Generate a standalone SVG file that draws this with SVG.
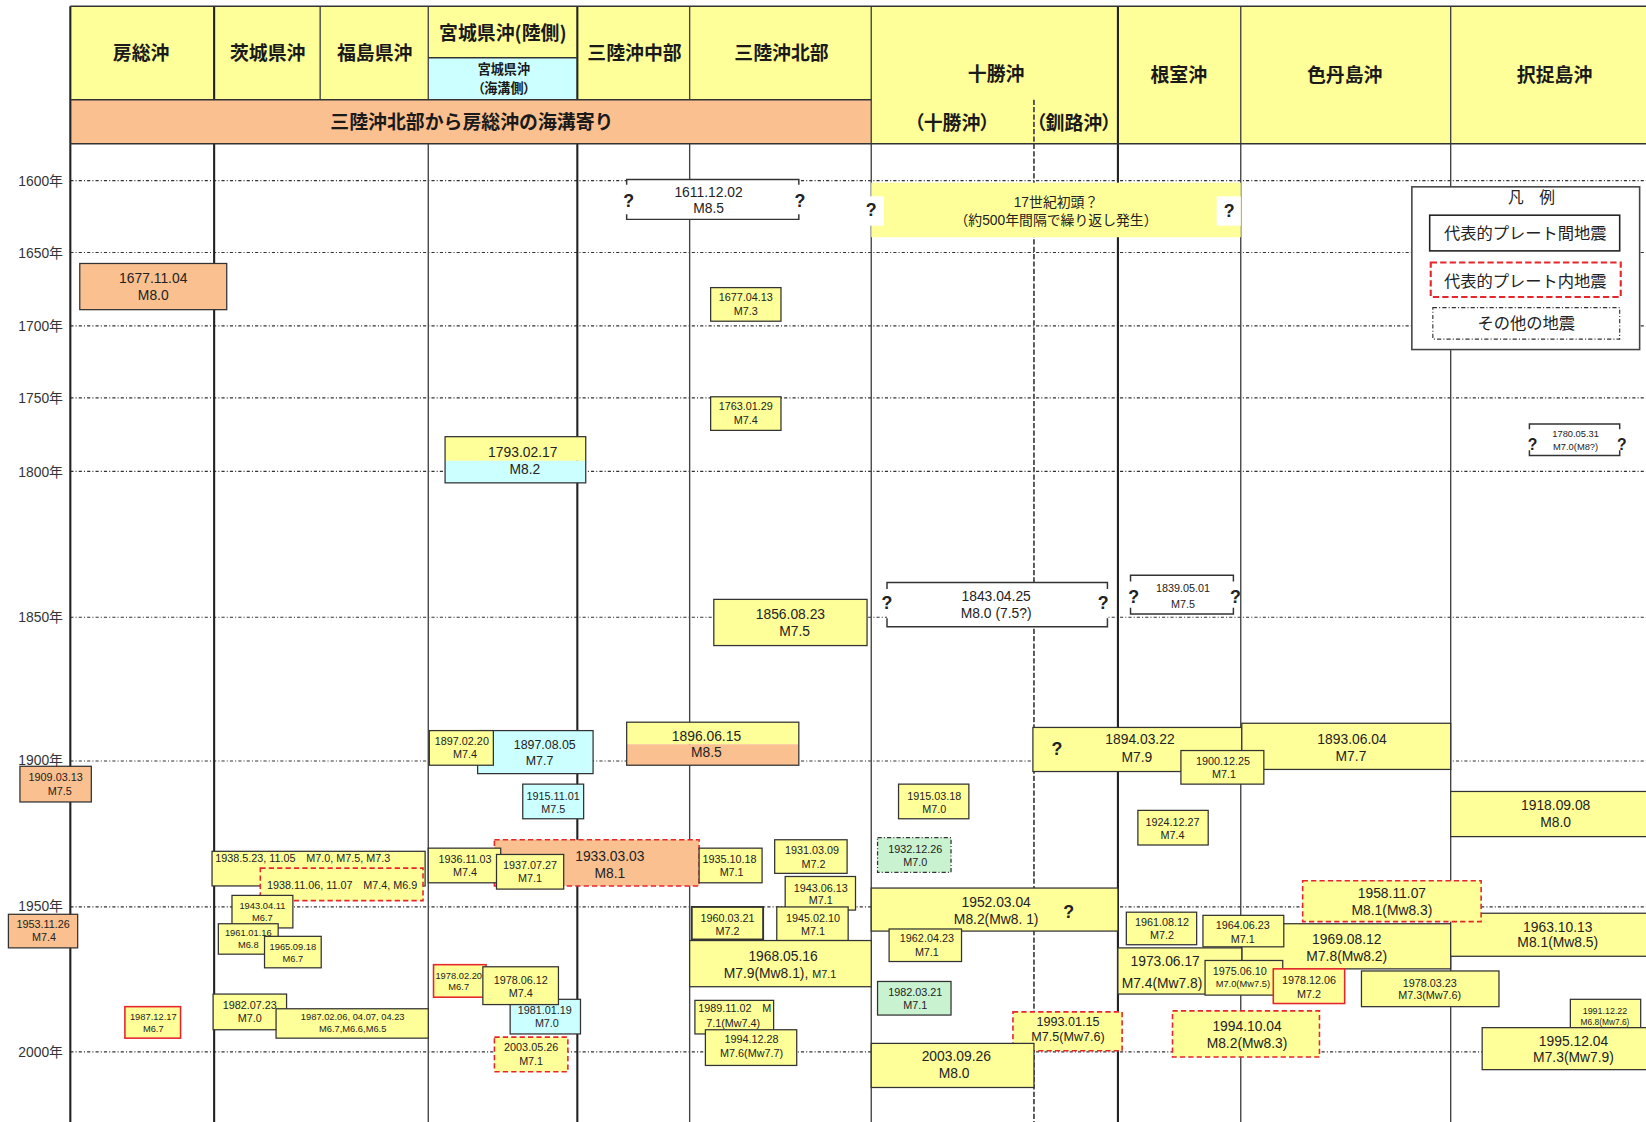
<svg xmlns="http://www.w3.org/2000/svg" width="1646" height="1122" viewBox="0 0 1646 1122">
<style>
.hd{font-family:"Noto Sans CJK JP","Noto Sans",sans-serif;font-weight:700;fill:#1a1a1a;text-anchor:middle;font-size:18px}
.palt{font-feature-settings:"palt"}
.lg{font-family:"Noto Sans CJK JP","Noto Sans",sans-serif;fill:#222;text-anchor:middle;font-size:15.5px}
.t{font-family:"Liberation Sans","Noto Sans CJK JP",sans-serif;fill:#222;text-anchor:middle}
.yr{font-family:"Liberation Sans","Noto Sans CJK JP",sans-serif;fill:#333;text-anchor:end;font-size:13.2px}
.q{font-family:"Liberation Sans",sans-serif;font-weight:700;font-size:17px;fill:#222;text-anchor:middle}
.s13{font-size:13.2px}.s12{font-size:12px}.s10{font-size:10.3px}.s9{font-size:8.9px}.s8{font-size:8px}
.b{stroke:#333;stroke-width:1.2}
.fy{fill:#FFFF99}.fo{fill:#FAC090}.fc{fill:#CCFFFF}.fg{fill:#C8F2D0}.fw{fill:#fff}
.rd{stroke:#E5262B;stroke-width:1.5;stroke-dasharray:5 3}
.rs{stroke:#E5262B;stroke-width:1.5}
.dd{stroke-dasharray:4 2 1 2}
.br{fill:none;stroke:#333;stroke-width:1.4}
.gl{stroke:#333;stroke-width:1.1;stroke-dasharray:3 2 1 2;fill:none}
.vk{stroke:#222;stroke-width:2}
.vt{stroke:#444;stroke-width:1.3}
</style>
<rect width="1646" height="1122" fill="#fff"/>
<g transform="scale(1.0497)">
<g id="header">
 <rect x="67" y="6" width="1505" height="131" fill="#FFFF99"/>
 <rect x="67" y="95" width="763" height="42" fill="#FAC090"/>
 <rect x="408" y="55" width="142" height="40" fill="#CCFFFF"/>
 <text class="hd" x="134.5" y="57.5">房総沖</text>
 <text class="hd" x="255" y="57.5">茨城県沖</text>
 <text class="hd" x="357" y="57.5">福島県沖</text>
 <text class="hd" x="479" y="38.5">宮城県沖(陸側)</text>
 <text class="hd palt" x="480" y="70.5" style="font-size:12.5px">宮城県沖</text>
 <text class="hd palt" x="480" y="88.5" style="font-size:12.5px">（海溝側）</text>
 <text class="hd" x="604.5" y="57.5">三陸沖中部</text>
 <text class="hd" x="744.5" y="57.5">三陸沖北部</text>
 <text class="hd" x="449.5" y="123">三陸沖北部から房総沖の海溝寄り</text>
 <text class="hd" x="949" y="77.5">十勝沖</text>
 <text class="hd palt" x="907" y="124">（十勝沖）</text>
 <text class="hd palt" x="1023" y="124">（釧路沖）</text>
 <text class="hd" x="1123" y="78">根室沖</text>
 <text class="hd" x="1281" y="78">色丹島沖</text>
 <text class="hd" x="1481" y="78">択捉島沖</text>
</g>
<g id="grid">
 <path class="gl" d="M67 172H1572M67 240.5H1572M67 310.5H1572M67 379H1572M67 449H1572M67 588H1572M67 725H1572M67 864H1572M67 1002H1572"/>
 <text class="yr" x="60" y="177">1600年</text>
 <text class="yr" x="60" y="245.5">1650年</text>
 <text class="yr" x="60" y="315.5">1700年</text>
 <text class="yr" x="60" y="384">1750年</text>
 <text class="yr" x="60" y="454">1800年</text>
 <text class="yr" x="60" y="593">1850年</text>
 <text class="yr" x="60" y="729">1900年</text>
 <text class="yr" x="60" y="868">1950年</text>
 <text class="yr" x="60" y="1007">2000年</text>
</g>
<g id="columns">
 <path class="vk" d="M67 6V1072M204 6V95M204 137V1072M550 6V95M550 137V1072M1065 6V1072"/>
 <path class="vt" d="M305 6V95M408 6V95M408 137V1072M657 6V95M657 137V1072M830 6V1072M1182 6V1072M1382 6V1072"/>
 <path d="M985 95V1072" stroke="#555" stroke-width="1.8" stroke-dasharray="5 2" fill="none"/>
 <path d="M67 6H1572M67 137H1572M67 95H830M408 55H550" stroke="#333" stroke-width="1.5" fill="none"/>
</g>
<g id="e1611"><rect x="597" y="171" width="164" height="38" class="fw"/><path class="br" d="M597 176V171H761V176M597 204V209H761V204"/><text class="q" x="599" y="197">?</text><text class="q" x="762" y="197">?</text><text class="t s13" x="675" y="187.5">1611.12.02</text><text class="t s13" x="675" y="203">M8.5</text></g>
<g id="e17c"><rect x="830" y="174" width="352" height="52" fill="#FFFF99"/><rect x="820" y="187" width="22" height="28" fill="#fff"/><rect x="1159" y="187" width="23" height="28" fill="#fff"/><text class="q" x="830" y="206">?</text><text class="q" x="1171" y="207">?</text><text class="t s13" x="1006" y="197">17世紀初頭？</text><text class="t s13" x="1006" y="214">（約500年間隔で繰り返し発生）</text></g>
<g id="e1677a"><rect x="76" y="251" width="140" height="44" class="b fo"/><text class="t s13" x="146" y="269.5">1677.11.04</text><text class="t s13" x="146" y="285.5">M8.0</text></g>
<g id="e1677b"><rect x="677" y="274" width="67" height="32" class="b fy"/><text class="t s10" x="710.5" y="287">1677.04.13</text><text class="t s10" x="710.5" y="300">M7.3</text></g>
<g id="e1763"><rect x="677" y="378" width="67" height="32" class="b fy"/><text class="t s10" x="710.5" y="390.5">1763.01.29</text><text class="t s10" x="710.5" y="404">M7.4</text></g>
<g id="e1793"><rect x="424" y="416" width="134" height="23" fill="#FFFF99"/><rect x="424" y="439" width="134" height="21" fill="#CCFFFF"/><rect x="424" y="416" width="134" height="44" class="b" fill="none"/><text class="t s13" x="498" y="435">1793.02.17</text><text class="t s13" x="500" y="452">M8.2</text></g>
<g id="e1780"><rect x="1457" y="404" width="86" height="30" class="fw"/><path class="br" d="M1457 409V404H1543V409M1457 429V434H1543V429"/><text class="q" x="1460" y="429" style="font-size:15px">?</text><text class="q" x="1545" y="429" style="font-size:15px">?</text><text class="t s9" x="1501" y="416">1780.05.31</text><text class="t s9" x="1501" y="429">M7.0(M8?)</text></g>
<g id="e1843"><rect x="845" y="555" width="210" height="42" class="fw"/><path class="br" d="M845 561V555H1055V561M845 589V597H1055V589"/><text class="q" x="845" y="580">?</text><text class="q" x="1051" y="580">?</text><text class="t s13" x="949" y="573">1843.04.25</text><text class="t s13" x="949" y="589">M8.0 (7.5?)</text></g>
<g id="e1839"><rect x="1077" y="548" width="98" height="37" class="fw"/><path class="br" d="M1077 554V548H1175V554M1077 579V585H1175V579"/><text class="q" x="1080" y="574">?</text><text class="q" x="1177" y="574">?</text><text class="t s10" x="1127" y="564" fill="#444">1839.05.01</text><text class="t s10" x="1127" y="579" fill="#444">M7.5</text></g>
<g id="e1856"><rect x="680" y="571" width="146" height="44" class="b fy"/><text class="t s13" x="753" y="589.5">1856.08.23</text><text class="t s13" x="757" y="606">M7.5</text></g>
<g id="e1896"><rect x="597" y="688" width="164" height="21" fill="#FFFF99"/><rect x="597" y="709" width="164" height="20" fill="#FAC090"/><rect x="597" y="688" width="164" height="41" class="b" fill="none"/><text class="t s13" x="673" y="706">1896.06.15</text><text class="t s13" x="673" y="721.5">M8.5</text></g>
<g id="e1897b"><rect x="455" y="696" width="110" height="41" class="b fc"/><text class="t" x="519" y="714" style="font-size:11.8px">1897.08.05</text><text class="t" x="514" y="728.5" style="font-size:11.8px">M7.7</text></g>
<g id="e1897a"><rect x="409" y="696" width="61" height="33" class="b fy"/><text class="t s10" x="440" y="709.5">1897.02.20</text><text class="t s10" x="443" y="722">M7.4</text></g>
<g id="e1909"><rect x="19" y="730" width="68" height="34" class="b fo"/><text class="t s10" x="53" y="744">1909.03.13</text><text class="t s10" x="57" y="757">M7.5</text></g>
<g id="e1915b"><rect x="498" y="747" width="58" height="33" class="b fc"/><text class="t s10" x="527" y="762">1915.11.01</text><text class="t s10" x="527" y="774.5">M7.5</text></g>
<g id="e1915a"><rect x="856" y="747" width="67" height="33" class="b fy"/><text class="t s10" x="890" y="762">1915.03.18</text><text class="t s10" x="890" y="774.5">M7.0</text></g>
<g id="e1894"><rect x="984" y="693" width="199" height="42" class="b fy"/><text class="q" x="1007" y="719">?</text><text class="t s13" x="1086" y="709">1894.03.22</text><text class="t s13" x="1083" y="726">M7.9</text></g>
<g id="e1893"><rect x="1183" y="689" width="199" height="44" class="b fy"/><text class="t s13" x="1288" y="709">1893.06.04</text><text class="t s13" x="1287" y="724.5">M7.7</text></g>
<g id="e1900"><rect x="1125" y="715" width="79" height="32" class="b fy"/><text class="t s10" x="1165" y="728.5">1900.12.25</text><text class="t s10" x="1166" y="741">M7.1</text></g>
<g id="e1918"><rect x="1382" y="754" width="190" height="43" class="b fy"/><text class="t s13" x="1482" y="772">1918.09.08</text><text class="t s13" x="1482" y="788">M8.0</text></g>
<g id="e1924"><rect x="1084" y="772" width="67" height="33" class="b fy"/><text class="t s10" x="1117" y="787">1924.12.27</text><text class="t s10" x="1117" y="799.5">M7.4</text></g>
<g id="e1938a"><rect x="202" y="811" width="203" height="33" class="b fy"/><text class="t s10" x="205" y="821.5" style="text-anchor:start">1938.5.23, 11.05　M7.0, M7.5, M7.3</text></g>
<g id="e1938b"><rect x="248" y="827" width="155" height="31" class="rd fy"/><text class="t s10" x="326" y="847">1938.11.06, 11.07　M7.4, M6.9</text></g>
<g id="e1933"><rect x="471" y="800" width="195" height="44" class="rd fo"/><text class="t s13" x="581" y="820">1933.03.03</text><text class="t s13" x="581" y="836">M8.1</text></g>
<g id="e1936"><rect x="408" y="808" width="69" height="33" class="b fy"/><text class="t s10" x="443" y="822">1936.11.03</text><text class="t s10" x="443" y="834.5">M7.4</text></g>
<g id="e1937"><rect x="473" y="814" width="64" height="33" class="b fy"/><text class="t s10" x="505" y="827.5">1937.07.27</text><text class="t s10" x="505" y="840.5">M7.1</text></g>
<g id="e1935"><rect x="666" y="808" width="60" height="33" class="b fy"/><text class="t s10" x="695" y="822">1935.10.18</text><text class="t s10" x="697" y="834.5">M7.1</text></g>
<g id="e1931"><rect x="738" y="800" width="69" height="32" class="b fy"/><text class="t s10" x="773.5" y="814">1931.03.09</text><text class="t s10" x="775" y="827">M7.2</text></g>
<g id="e1943b"><rect x="748" y="835" width="67" height="32" class="b fy"/><text class="t s10" x="782" y="850">1943.06.13</text><text class="t s10" x="782" y="861.5">M7.1</text></g>
<g id="e1945"><rect x="740" y="864" width="68" height="32" class="b fy"/><text class="t s10" x="774.5" y="878.5">1945.02.10</text><text class="t s10" x="774.5" y="890.5">M7.1</text></g>
<g id="e1960"><rect x="659" y="864" width="68" height="31" class="b fy" style="stroke-width:1.8"/><text class="t s10" x="693" y="878.5">1960.03.21</text><text class="t s10" x="693" y="890.5">M7.2</text></g>
<g id="e1968"><rect x="657" y="896" width="173" height="44" class="b fy"/><text class="t s13" x="746" y="915.5">1968.05.16</text><text class="t s13" x="743" y="931.5">M7.9(Mw8.1), <tspan class="s10">M7.1</tspan></text></g>
<g id="e1989"><rect x="662" y="953" width="75" height="32" class="b fy"/><text class="t s10" x="700" y="964">1989.11.02　M</text><text class="t s10" x="698.5" y="978">7.1(Mw7.4)</text></g>
<g id="e1994b"><rect x="672" y="981" width="87" height="34" class="b fy"/><text class="t s10" x="716" y="993.5">1994.12.28</text><text class="t s10" x="716" y="1006.5">M7.6(Mw7.7)</text></g>
<g id="e1978a"><rect x="413" y="919" width="50" height="31" class="rs fy"/><text class="t s9" x="437" y="932.5">1978.02.20</text><text class="t s9" x="437" y="943.5">M6.7</text></g>
<g id="e1981"><rect x="486" y="952" width="67" height="33" class="b fc"/><text class="t s10" x="519" y="966">1981.01.19</text><text class="t s10" x="521" y="978.5">M7.0</text></g>
<g id="e1978b"><rect x="460" y="921" width="72" height="36" class="b fy"/><text class="t s10" x="496" y="937.5">1978.06.12</text><text class="t s10" x="496" y="950">M7.4</text></g>
<g id="e2003a"><rect x="471" y="988" width="70" height="33" class="rd fy"/><text class="t s10" x="506" y="1001.5">2003.05.26</text><text class="t s10" x="506" y="1015">M7.1</text></g>
<g id="e1953"><rect x="8" y="871" width="66" height="32" class="b fo"/><text class="t s10" x="41" y="884.5">1953.11.26</text><text class="t s10" x="42" y="896.5">M7.4</text></g>
<g id="e1943a"><rect x="221" y="853" width="58" height="31" class="b fy"/><text class="t s9" x="250" y="866">1943.04.11</text><text class="t s9" x="250" y="877.5">M6.7</text></g>
<g id="e1961a"><rect x="208" y="880" width="57" height="29" class="b fy"/><text class="t s9" x="236.5" y="891.5">1961.01.16</text><text class="t s9" x="236.5" y="903">M6.8</text></g>
<g id="e1965"><rect x="252" y="892" width="54" height="30" class="b fy"/><text class="t s9" x="279" y="905">1965.09.18</text><text class="t s9" x="279" y="916">M6.7</text></g>
<g id="e1982a"><rect x="203" y="947" width="70" height="34" class="b fy"/><text class="t s10" x="238" y="961">1982.07.23</text><text class="t s10" x="238" y="973.5">M7.0</text></g>
<g id="e1987a"><rect x="263" y="961" width="145" height="28" class="b fy"/><text class="t s9" x="336" y="972">1987.02.06, 04.07, 04.23</text><text class="t s9" x="336" y="983.5">M6.7,M6.6,M6.5</text></g>
<g id="e1987b"><rect x="119" y="959" width="53" height="30" class="rs fy"/><text class="t s9" x="146" y="972">1987.12.17</text><text class="t s9" x="146" y="983.5">M6.7</text></g>
<g id="e1932"><rect x="836" y="798" width="70" height="33" class="b fg dd"/><text class="t s10" x="872" y="813">1932.12.26</text><text class="t s10" x="872" y="825">M7.0</text></g>
<g id="e1952"><rect x="830" y="846" width="235" height="41" class="b fy"/><text class="q" x="1018" y="875">?</text><text class="t s13" x="949" y="864">1952.03.04</text><text class="t s13" x="949" y="880.5">M8.2(Mw8. 1)</text></g>
<g id="e1962"><rect x="847" y="885" width="69" height="31" class="b fy"/><text class="t s10" x="883" y="897.5">1962.04.23</text><text class="t s10" x="883" y="911">M7.1</text></g>
<g id="e1982b"><rect x="836" y="935" width="70" height="32" class="b fg"/><text class="t s10" x="872" y="949">1982.03.21</text><text class="t s10" x="872" y="961.5">M7.1</text></g>
<g id="e1993"><rect x="965" y="964" width="104" height="37" class="rd fy"/><text class="t s12" x="1017.5" y="977.5">1993.01.15</text><text class="t s12" x="1017.5" y="991.5">M7.5(Mw7.6)</text></g>
<g id="e2003b"><rect x="830" y="994" width="155" height="42" class="b fy"/><text class="t s13" x="911" y="1011">2003.09.26</text><text class="t s13" x="909" y="1026.5">M8.0</text></g>
<g id="e1961b"><rect x="1073" y="869" width="67" height="31" class="b fy"/><text class="t s10" x="1107" y="882">1961.08.12</text><text class="t s10" x="1107" y="894.5">M7.2</text></g>
<g id="e1969"><rect x="1183" y="880" width="199" height="43" class="b fy"/><text class="t s13" x="1283" y="899">1969.08.12</text><text class="t s13" x="1283" y="915.5">M7.8(Mw8.2)</text></g>
<g id="e1964"><rect x="1146" y="872" width="77" height="30" class="b fy"/><text class="t s10" x="1184" y="885">1964.06.23</text><text class="t s10" x="1184" y="898">M7.1</text></g>
<g id="e1973"><rect x="1065" y="903" width="118" height="44" class="b fy"/><text class="t s13" x="1110" y="920">1973.06.17</text><text class="t s13" x="1107" y="941">M7.4(Mw7.8)</text></g>
<g id="e1975"><rect x="1148" y="915" width="74" height="33" class="b fy"/><text class="t s10" x="1181" y="929">1975.06.10</text><text class="t s9" x="1184" y="940.5">M7.0(Mw7.5)</text></g>
<g id="e1978c"><rect x="1213" y="923" width="68" height="33" class="rs fy"/><text class="t s10" x="1247" y="937.5">1978.12.06</text><text class="t s10" x="1247" y="951">M7.2</text></g>
<g id="e1994a"><rect x="1117" y="963" width="140" height="44" class="rd fy"/><text class="t s13" x="1188" y="982">1994.10.04</text><text class="t s13" x="1188" y="998.5">M8.2(Mw8.3)</text></g>
<g id="e1963"><rect x="1382" y="870" width="190" height="41" class="b fy"/><text class="t s13" x="1484" y="887.5">1963.10.13</text><text class="t s13" x="1484" y="902.5">M8.1(Mw8.5)</text></g>
<g id="e1958"><rect x="1241" y="839" width="170" height="39" class="rd fy"/><text class="t s13" x="1326" y="855.5">1958.11.07</text><text class="t s13" x="1326" y="871.5">M8.1(Mw8.3)</text></g>
<g id="e1978d"><rect x="1297" y="925" width="131" height="34" class="b fy"/><text class="t s10" x="1362" y="940">1978.03.23</text><text class="t s10" x="1362" y="952">M7.3(Mw7.6)</text></g>
<g id="e1991"><rect x="1496" y="952" width="67" height="27" class="b fy"/><text class="t s9" x="1529" y="966" style="font-size:8.5px">1991.12.22</text><text class="t s8" x="1529" y="976.5">M6.8(Mw7.6)</text></g>
<g id="e1995"><rect x="1412" y="979" width="160" height="40" class="b fy"/><text class="t s13" x="1499" y="996">1995.12.04</text><text class="t s13" x="1499" y="1011.5">M7.3(Mw7.9)</text></g>
<g id="legend">
 <rect x="1345" y="178" width="217" height="155" fill="#fff" stroke="#444" stroke-width="1.5"/>
 <text class="lg" x="1459" y="193" style="font-size:15px">凡　例</text>
 <rect x="1362" y="205" width="181" height="34" fill="#fff" stroke="#222" stroke-width="1.5"/>
 <text class="lg" x="1453" y="228">代表的プレート間地震</text>
 <rect x="1363" y="250" width="181" height="33" fill="#fff" stroke="#E5262B" stroke-width="2" stroke-dasharray="6 3"/>
 <text class="lg" x="1453" y="273">代表的プレート内地震</text>
 <rect x="1365" y="293" width="178" height="30" fill="#fff" stroke="#333" stroke-width="1.1" stroke-dasharray="4 2 1 2"/>
 <text class="lg" x="1454" y="313.5">その他の地震</text>
</g>
</g>
</svg>
